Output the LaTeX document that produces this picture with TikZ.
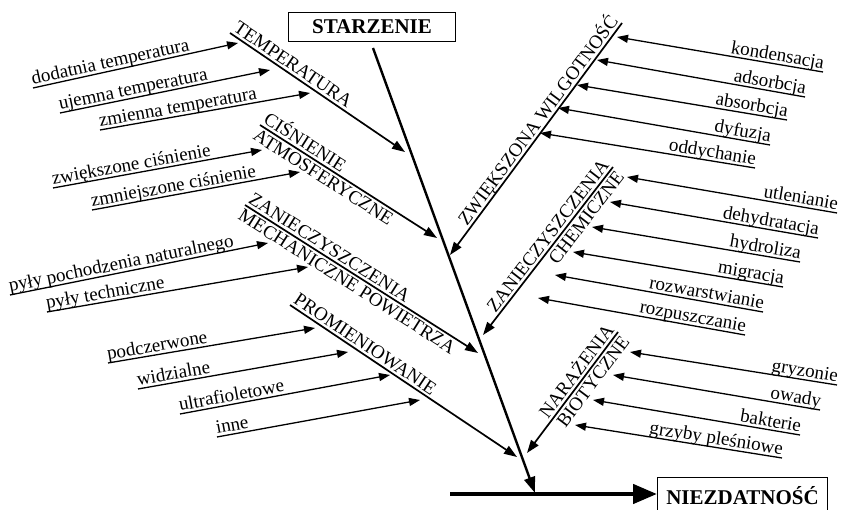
\documentclass[tikz,border=0pt]{standalone}
\usepackage{fontspec}
\setmainfont{Liberation Serif}
\usetikzlibrary{arrows.meta}
\begin{document}
\begin{tikzpicture}[x=1pt, y=1pt,
    sub/.style={line width=1.3pt, -{Triangle[length=11pt, width=8pt]}},
    br/.style={line width=1.7pt, -{Triangle[length=13pt, width=9pt]}},
    lbl/.style={font=\fontsize{19}{21}\selectfont, sloped, inner xsep=0pt, inner ysep=2.5pt, text depth=0pt},
    box/.style={draw, line width=1pt, font=\bfseries\fontsize{21}{23}\selectfont, inner sep=0pt}]
  \useasboundingbox (0,0) rectangle (842,510);
  \node[box, minimum width=167pt, minimum height=29pt] (starz) at (372,483) {STARZENIE};
  \node[box, minimum width=170pt, minimum height=36pt, anchor=north west] (niezd) at (657,33) {NIEZDATNOŚĆ};
  % spine and outcome
  \coordinate (sptop) at (373,462);
  \coordinate (spbot) at (535,17);
  \coordinate (tail) at (450,16);
  \draw[line width=2.4pt, -{Triangle[length=16pt, width=11pt]}] (sptop) -- (spbot);
  \draw[line width=4.5pt, -{Triangle[length=24pt, width=19pt]}] (tail) -- (niezd.west |- tail);
  % main branches
  \foreach \n/\ax/\ay/\bx/\by in {tp/230/477/405/358, ci/260/385/437/272, me/245/305/478/157, pr/290/205/517/53,
      wi/622/487/450/255, ch/613/343/483/175, bi/618/178/527/57}
    {\coordinate (\n s) at (\ax,\ay); \coordinate (\n t) at (\bx,\by);}
  \draw[br] (tps) -- node[lbl, pos=0, anchor=south west] {TEMPERATURA} (tpt);
  \draw[br] (cis) -- node[lbl, pos=0, anchor=south west] {CIŚNIENIE}
    node[lbl, pos=0, anchor=north west] {ATMOSFERYCZNE} (cit);
  \draw[br] (mes) -- node[lbl, pos=0, anchor=south west] {ZANIECZYSZCZENIA}
    node[lbl, pos=0, anchor=north west] {MECHANICZNE POWIETRZA} (met);
  \draw[br] (prs) -- node[lbl, pos=0, anchor=south west] {PROMIENIOWANIE} (prt);
  \draw[br] (wis) -- node[lbl, pos=0, anchor=south east] {ZWIĘKSZONA WILGOTNOŚĆ} (wit);
  \draw[br] (chs) -- node[lbl, pos=0, anchor=south east] {ZANIECZYSZCZENIA}
    node[lbl, pos=0, anchor=north east] {CHEMICZNE} (cht);
  \draw[br] (bis) -- node[lbl, pos=0, anchor=south east] {NARAŻENIA}
    node[lbl, pos=0, anchor=north east] {BIOTYCZNE} (bit);
  % causes, left side
  \foreach \txt/\ax/\ay/\bx/\by [count=\i] in {dodatnia temperatura/33/422/238/467,
      ujemna temperatura/60/397/270/440, zmienna temperatura/100/380/310/417,
      zwiększone ciśnienie/53/322/262/360, zmniejszone ciśnienie/92/300/300/338,
      pyły pochodzenia naturalnego/10/215/268/267, pyły techniczne/47/198/308/243,
      podczerwone/108/147/315/182, widzialne/138/121/348/158,
      ultrafioletowe/180/96/390/135, inne/217/73/420/110}
    {\coordinate (la\i) at (\ax,\ay); \coordinate (lb\i) at (\bx,\by);
     \draw[sub] (la\i) -- node[lbl, pos=0, anchor=south west] {\txt} (lb\i);}
  % causes, right side
  \foreach \txt/\ax/\ay/\bx/\by [count=\i] in {kondensacja/823/438/617/473,
      adsorbcja/805/413/597/450, absorbcja/787/390/577/425, dyfuzja/770/365/558/402,
      oddychanie/755/342/540/377, utlenianie/837/297/627/333, dehydratacja/818/272/610/308,
      hydroliza/800/248/592/283, migracja/783/223/573/258, rozwarstwianie/763/198/555/235,
      rozpuszczanie/745/175/538/212, gryzonie/837/125/630/158, owady/820/100/613/135,
      bakterie/800/75/593/110, grzyby pleśniowe/782/52/575/85}
    {\coordinate (ra\i) at (\ax,\ay); \coordinate (rb\i) at (\bx,\by);
     \draw[sub] (ra\i) -- node[lbl, pos=0, anchor=south east] {\txt} (rb\i);}
\end{tikzpicture}
\end{document}
